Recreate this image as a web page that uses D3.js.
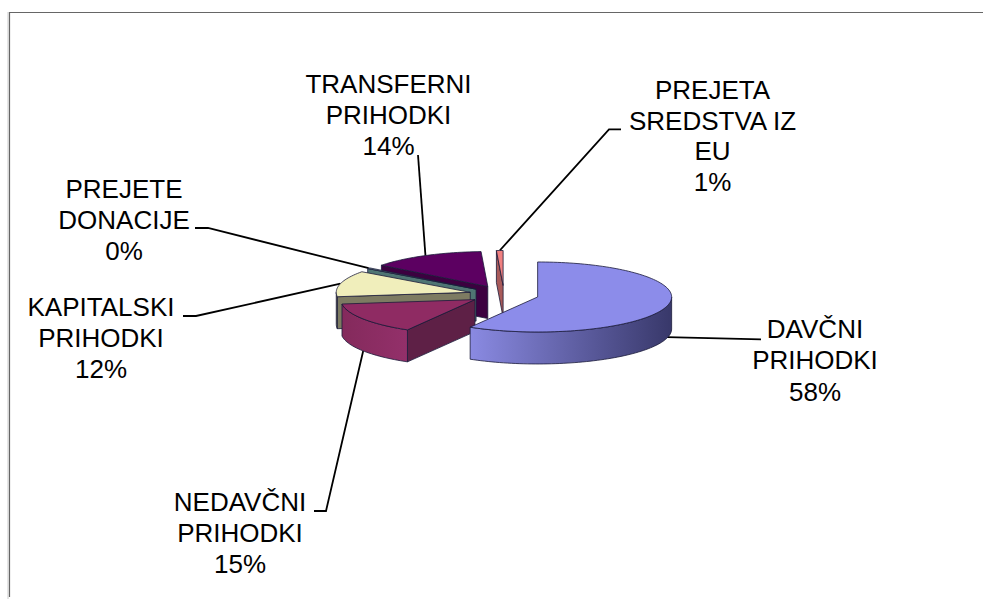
<!DOCTYPE html>
<html>
<head>
<meta charset="utf-8">
<style>
  html, body { margin: 0; background: #fff; }
  svg { display: block; }
  text { font-family: "Liberation Sans", Arial, sans-serif; font-size: 26px; fill: #000; }
</style>
<script src="https://cdn.jsdelivr.net/npm/d3@7/dist/d3.min.js"></script>
</head>
<body>
<svg id="chart"></svg>
<script>
    // values, labels show them rounded
    const categories = ["DAVČNI PRIHODKI", "NEDAVČNI PRIHODKI", "KAPITALSKI PRIHODKI", "PREJETE DONACIJE", "TRANSFERNI PRIHODKI", "PREJETA SREDSTVA IZ EU"];
    const shares = [58.4, 14.6, 12, 0.4, 13.8, 0.8];
    const percentLabels = ["58%", "15%", "12%", "0%", "14%", "1%"];

    const topColors = ["#8c8cea", "#8f2b63", "#f0eebb", "#6f9c9a", "#5c0061", "#f08080"];
    const wallLeft = ["#8a8ae2", "#842a5c", "#7d7b62", "#4f7573", "#3c0040", "#a85a5a"];
    const wallRight = ["#38386a", "#93306a", "#7d7b62", "#4f7573", "#3c0040", "#a85a5a"];
    const cutColors = ["#3f3f73", "#5e2046", "#7d7b62", "#4f7573", "#3c0040", "#a85a5a"];

    const width = 983;
    const height = 599;

    const centerX = 504, centerY = 294.6;
    const radiusX = 134, radiusY = 35;
    const depth = 32;
    const explode = 0.26;

    // label text block: centre x, first baseline, line step, wrapped lines
    const labelLayout = [
      { x: 815, y: 338, step: 31.3, lines: ["DAVČNI", "PRIHODKI"] },
      { x: 240, y: 510.7, step: 31, lines: ["NEDAVČNI", "PRIHODKI"] },
      { x: 101, y: 315.7, step: 31, lines: ["KAPITALSKI", "PRIHODKI"] },
      { x: 124, y: 198, step: 31, lines: ["PREJETE", "DONACIJE"] },
      { x: 388.5, y: 92.7, step: 31.2, lines: ["TRANSFERNI", "PRIHODKI"] },
      { x: 712.5, y: 99, step: 30.6, lines: ["PREJETA", "SREDSTVA IZ", "EU"] }
    ];
    // leader line from the label, the last point is found from the slice rim
    const leaderStart = [
      [[761, 339.3]],
      [[314, 511], [326, 511]],
      [[183, 316], [196, 316]],
      [[195, 228], [208, 228]],
      [[418, 155]],
      [[621, 129.3], [609, 129.3]]
    ];
    const leaderDrop = [depth * 0.97, depth, 0, 0, 0, 0];

    const x = d3.scaleLinear().domain([-1, 1]).range([centerX - radiusX, centerX + radiusX]);
    const y = d3.scaleLinear().domain([-1, 1]).range([centerY + radiusY, centerY - radiusY]);

    const arcs = d3.pie().sort(null).value(d => d)(shares);

    const svg = d3.select("#chart").attr("width", width).attr("height", height);
    const defs = svg.append("defs");

    // frame, only top and left survive in the picture
    svg.append("path")
      .attr("d", d3.line()([[8, height], [8, 12]]))
      .attr("stroke", "#ccc").attr("stroke-width", 1).attr("fill", "none");
    svg.append("path")
      .attr("d", d3.line()([[9.5, height - 2], [9.5, 12.5], [width, 12.5]]))
      .attr("stroke", "#666").attr("stroke-width", 1.2).attr("fill", "none");

    // project an angle on the exploded slice, dz pushes it down the wall
    function project(d, angle, r = 1, dz = 0) {
      const mid = (d.startAngle + d.endAngle) / 2;
      const px = r * Math.sin(angle) + explode * Math.sin(mid);
      const py = r * Math.cos(angle) + explode * Math.cos(mid);
      return [x(px), y(py) + dz];
    }

    function arcPoints(d, a0, a1, dz) {
      const n = Math.max(2, Math.ceil((a1 - a0) / 0.03));
      return d3.range(n + 1).map(i => project(d, a0 + (a1 - a0) * i / n, 1, dz));
    }

    const line = d3.line();
    const edge = "#1b1b3a";

    // leaders go under the pie
    const leaders = svg.append("g").attr("fill", "none").attr("stroke", "#000").attr("stroke-width", 1.8);
    arcs.forEach((d, i) => {
      const mid = (d.startAngle + d.endAngle) / 2;
      leaders.append("path").attr("d", line(leaderStart[i].concat([project(d, mid, 1, leaderDrop[i])])));
    });

    const pieGroup = svg.append("g");

    // back slices first, the big slice is in front of everything
    d3.range(arcs.length - 1, -1, -1).forEach(i => {
      const d = arcs[i];
      const a = d.startAngle, b = d.endAngle;
      const g = pieGroup.append("g")
        .attr("stroke", edge).attr("stroke-width", 0.8).attr("stroke-linejoin", "round");

      // cut walls facing the viewer
      if (Math.sin(a) < -1e-6) {
        const apex = project(d, a, 0), rim = project(d, a);
        g.append("path")
          .attr("d", line([apex, rim, [rim[0], rim[1] + depth], [apex[0], apex[1] + depth]]) + "Z")
          .attr("fill", cutColors[i]);
      }
      if (Math.sin(b) > 1e-6) {
        const apex = project(d, b, 0), rim = project(d, b);
        g.append("path")
          .attr("d", line([apex, rim, [rim[0], rim[1] + depth], [apex[0], apex[1] + depth]]) + "Z")
          .attr("fill", cutColors[i]);
      }

      // outer wall, only the part on the near side
      const w0 = Math.max(a, Math.PI / 2), w1 = Math.min(b, 3 * Math.PI / 2);
      if (w1 > w0) {
        const gradId = "wall" + i;
        const grad = defs.append("linearGradient").attr("id", gradId);
        grad.append("stop").attr("offset", "0%").attr("stop-color", wallRight[i]);
        grad.append("stop").attr("offset", "100%").attr("stop-color", wallLeft[i]);
        grad.attr("x1", "100%").attr("x2", "0%");
        const upper = arcPoints(d, w0, w1, 0);
        const lower = arcPoints(d, w0, w1, depth).reverse();
        g.append("path")
          .attr("d", line(upper.concat(lower)) + "Z")
          .attr("fill", "url(#" + gradId + ")");
      }

      // top face
      const top = [project(d, a, 0)].concat(arcPoints(d, a, b, 0));
      g.append("path").attr("d", line(top) + "Z").attr("fill", topColors[i]);
    });

    // labels
    const labels = svg.append("g").attr("text-anchor", "middle");
    labelLayout.forEach((l, i) => {
      l.lines.concat([percentLabels[i]]).forEach((t, k) => {
        labels.append("text").attr("x", l.x).attr("y", l.y + k * l.step).text(t);
      });
    });
</script>
</body>
</html>
